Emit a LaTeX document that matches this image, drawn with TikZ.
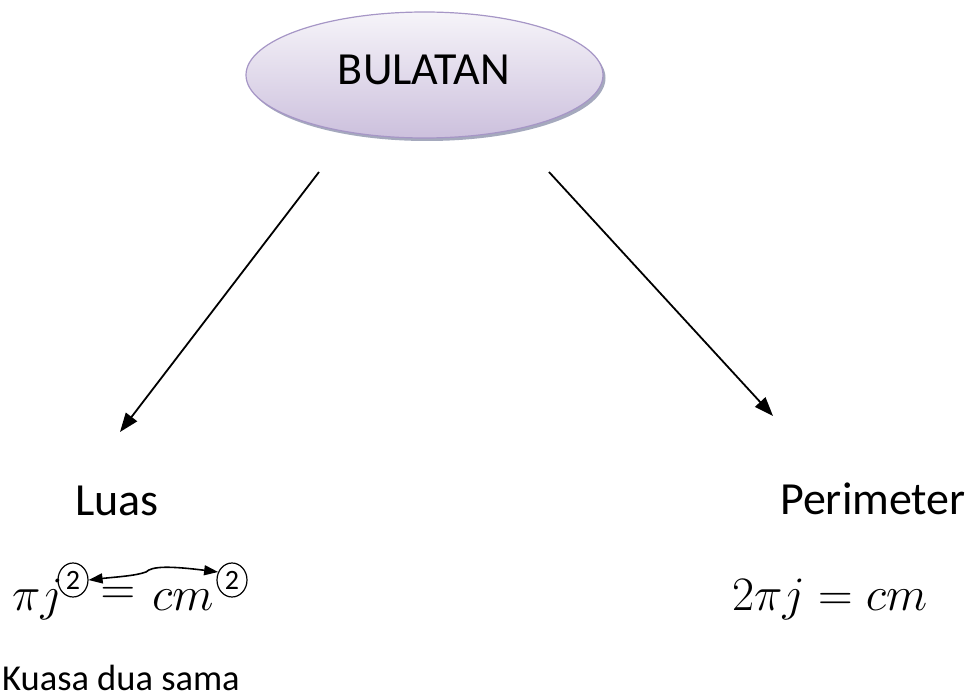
\RequirePackage{fix-cm}
\documentclass[tikz,border=0pt]{standalone}
\usepackage{fontspec}
\setmainfont{Carlito}
\usetikzlibrary{arrows.meta,shadows,shapes.geometric}
\definecolor{ellTop}{HTML}{F6F4F9}
\definecolor{ellBot}{HTML}{CCC0DD}
\definecolor{ellLine}{HTML}{A696C6}
\definecolor{ellShadow}{HTML}{8E93AD}
\tikzset{
  topic/.style={ellipse, draw=ellLine, line width=1.2pt, top color=ellTop, bottom color=ellBot,
    minimum width=357pt, minimum height=126pt, inner sep=0pt,
    drop shadow={shadow xshift=2.5pt, shadow yshift=-3pt, fill=ellShadow, opacity=0.8}},
  bigtext/.style={font=\fontsize{46}{55}\selectfont, inner sep=0pt},
  smalltext/.style={font=\fontsize{36.5}{44}\selectfont, inner sep=0pt},
  mathtext/.style={font=\fontsize{48}{58}\selectfont, inner sep=0pt},
  circ/.style={ellipse, draw, line width=1.2pt, minimum width=30pt, minimum height=34pt, inner sep=0pt,
    font=\fontsize{28}{34}\selectfont},
  mainarrow/.style={line width=1.8pt, -{Triangle[length=19pt,width=14pt]}},
  swaparrow/.style={line width=1.6pt, {Triangle[length=14pt,width=10pt]}-{Triangle[length=14pt,width=10pt]}}
}
\begin{document}
\begin{tikzpicture}[x=1pt,y=-1pt]
\useasboundingbox (0,0) rectangle (978,698);
\node[topic] (top) at (424.5,75) {};
\node[bigtext] (title) at (424,70) {BULATAN};
\coordinate (s1) at (319,172);
\coordinate (t1) at (120,432);
\coordinate (s2) at (549,172);
\coordinate (t2) at (773,416);
\draw[mainarrow] (s1) -- (t1);
\draw[mainarrow] (s2) -- (t2);
\node[bigtext, anchor=base west] (luas) at (75,515) {Luas};
\node[bigtext, anchor=base west] (peri) at (780,514) {Perimeter};
\node[mathtext, anchor=base west] (pij) at (12,610) {$\pi j$};
\node[circ] (c1) at (73,580) {2};
\node[mathtext] (eq) at (118,596) {$=$};
\node[mathtext, anchor=base west] (cm) at (152,610) {$cm$};
\node[circ] (c2) at (232,580) {2};
\draw[swaparrow] (c1.east) .. controls (115,577) and (135,576) .. (146,572)
  .. controls (152,566) and (170,566) .. (c2.150);
\node[mathtext, anchor=base west] (peq) at (732,610) {$2\pi j = cm$};
\node[smalltext, anchor=base west] (kuasa) at (2,690) {Kuasa dua sama};
\end{tikzpicture}
\end{document}
